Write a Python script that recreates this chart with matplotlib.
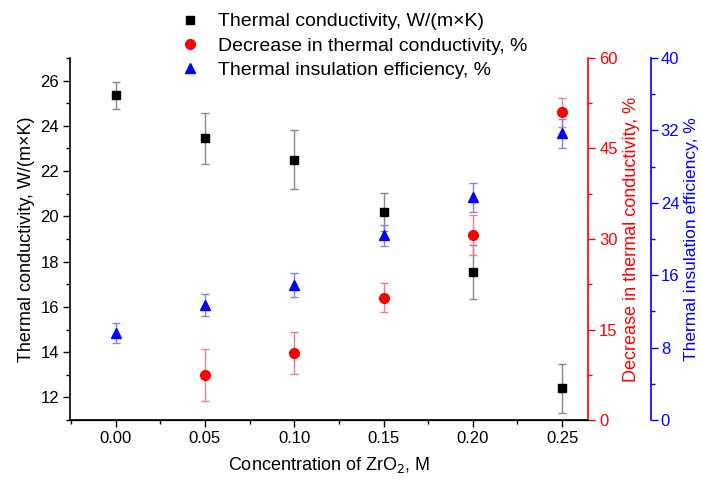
import numpy as np
import matplotlib
matplotlib.use("Agg")
import matplotlib.pyplot as plt
from matplotlib.ticker import MultipleLocator

plt.rcParams['font.family'] = ['Liberation Sans', 'DejaVu Sans']

conc = [0.00, 0.05, 0.10, 0.15, 0.20, 0.25]

# thermal conductivity, W/(m x K)
tc = [25.35, 23.45, 22.5, 20.2, 17.55, 12.4]
tcErr = [0.6, 1.12, 1.3, 0.85, 1.18, 1.1]

# decrease in thermal conductivity, %
decConc = [0.05, 0.10, 0.15, 0.20, 0.25]
dec = [7.5, 11.1, 20.3, 30.6, 51.0]
decErr = [4.3, 3.5, 2.4, 3.3, 2.4]

# thermal insulation efficiency, %
eff = [9.6, 12.75, 14.9, 20.4, 24.6, 31.7]
effErr = [1.1, 1.2, 1.3, 1.2, 1.6, 1.6]

fig = plt.figure(figsize=(7.02, 4.79), dpi=100)
ax = fig.add_axes([0.0997, 0.123, 0.738, 0.756])
axRed = ax.twinx()
axBlue = ax.twinx()
axBlue.spines['right'].set_position(('axes', 1.1216))

h1 = ax.errorbar(conc, tc, yerr=tcErr, fmt='s', color='black', ms=6,
                 ecolor='#888888', elinewidth=1, capsize=3, capthick=1)
h2 = axRed.errorbar(decConc, dec, yerr=decErr, fmt='o', color='red', ms=7,
                    ecolor='#f08080', elinewidth=1, capsize=3, capthick=1)
h3 = axBlue.errorbar(conc, eff, yerr=effErr, fmt='^', color='blue', ms=7,
                     ecolor='#8080f0', elinewidth=1, capsize=3, capthick=1)

ax.set_xlim(-0.0255, 0.2645)
ax.set_ylim(11, 27)
axRed.set_ylim(0, 60)
axBlue.set_ylim(0, 40)

ax.set_xticks(conc)
ax.set_xticklabels(['%.2f' % c for c in conc])
ax.xaxis.set_minor_locator(MultipleLocator(0.025))
ax.set_yticks([12, 14, 16, 18, 20, 22, 24, 26])
ax.yaxis.set_minor_locator(MultipleLocator(1))
axRed.set_yticks([0, 15, 30, 45, 60])
axRed.yaxis.set_minor_locator(MultipleLocator(7.5))
axBlue.set_yticks([0, 8, 16, 24, 32, 40])
axBlue.yaxis.set_minor_locator(MultipleLocator(4))

for a in (ax, axRed, axBlue):
    a.spines['top'].set_visible(False)
    a.tick_params(which='major', direction='out', length=5, width=1, labelsize=12, pad=3)
    a.tick_params(which='minor', direction='out', length=3, width=1)

ax.spines['right'].set_visible(False)
axBlue.spines['left'].set_visible(False)
axRed.spines['left'].set_visible(False)
axRed.spines['right'].set_color('red')
axRed.spines['right'].set_linewidth(1.2)
axRed.tick_params(axis='y', which='both', colors='red')
axBlue.spines['right'].set_color('blue')
axBlue.spines['right'].set_linewidth(1.2)
axBlue.tick_params(axis='y', which='both', colors='blue', pad=2)
ax.spines['left'].set_linewidth(1.2)
ax.spines['bottom'].set_linewidth(1.2)

ax.set_xlabel('Concentration of ZrO$_2$, M', fontsize=13, labelpad=6)
ax.set_ylabel('Thermal conductivity, W/(m×K)', fontsize=13, labelpad=4)
axRed.set_ylabel('Decrease in thermal conductivity, %', fontsize=13, color='red', labelpad=4)
axBlue.set_ylabel('Thermal insulation efficiency, %', fontsize=12.5, color='blue', labelpad=3)

# legend shows only the markers
fig.legend([h1[0], h2[0], h3[0]],
           ['Thermal conductivity, W/(m×K)',
            'Decrease in thermal conductivity, %',
            'Thermal insulation efficiency, %'],
           loc='upper left', bbox_to_anchor=(0.225, 1.01), frameon=False,
           fontsize=14, handletextpad=0.7, labelspacing=0.35, handlelength=1.5)

fig.savefig('out.png', dpi=100)
